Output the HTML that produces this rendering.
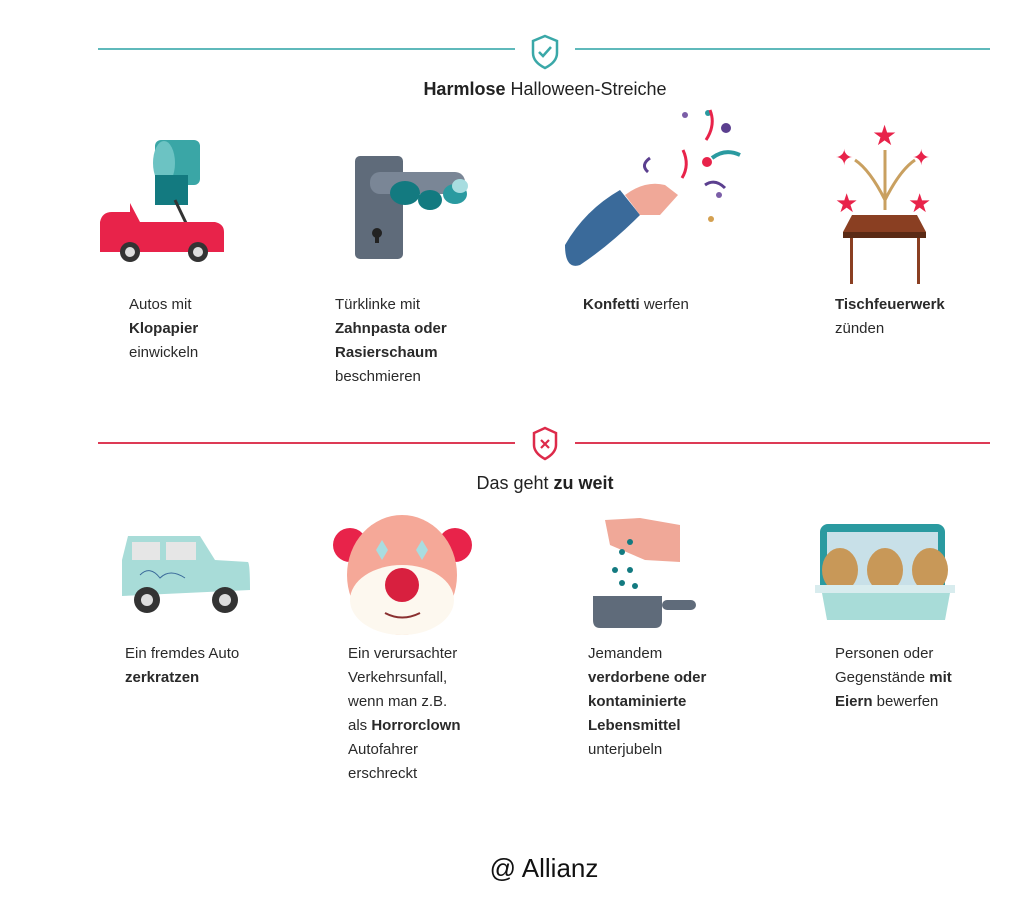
<!DOCTYPE html>
<html><head><meta charset="utf-8"><style>
body{margin:0;width:1024px;height:897px;background:#fff;position:relative;overflow:hidden;font-family:"Liberation Sans",sans-serif;color:#222}
.t{position:absolute;font-size:15px;line-height:24px;color:#2a2a2a}
b{font-weight:bold}
.h{position:absolute;font-size:18px;width:1024px;left:0;text-align:center;padding-left:66px;box-sizing:border-box;color:#222}
</style></head><body>
<svg width="1024" height="897" style="position:absolute;left:0;top:0">
<line x1="98" y1="49" x2="515" y2="49" stroke="#5fb9bb" stroke-width="2"/>
<line x1="575" y1="49" x2="990" y2="49" stroke="#5fb9bb" stroke-width="2"/>
<path d="M545 36 L557 41 V53 Q557 62 545 68 Q533 62 533 53 V41Z" fill="none" stroke="#3aa8a8" stroke-width="2.5"/>
<path d="M539 52 l4 4 l8 -9" fill="none" stroke="#3aa8a8" stroke-width="2.5"/>
<line x1="98" y1="443" x2="515" y2="443" stroke="#dd3a55" stroke-width="2"/>
<line x1="575" y1="443" x2="990" y2="443" stroke="#dd3a55" stroke-width="2"/>
<path d="M545 428 L556 433 V445 Q556 453 545 459 Q534 453 534 445 V433Z" fill="none" stroke="#dd2a4a" stroke-width="2.5"/>
<path d="M541 440 l8 8 M549 440 l-8 8" stroke="#dd2a4a" stroke-width="2.2"/>
<rect x="155" y="140" width="45" height="45" rx="6" fill="#3aa6a6"/>
<ellipse cx="164" cy="163" rx="11" ry="22" fill="#6cc3c3"/>
<rect x="155" y="175" width="33" height="30" fill="#137a80"/>
<line x1="175" y1="200" x2="186" y2="223" stroke="#333" stroke-width="3"/>
<path d="M100 222 Q102 212 112 212 L130 212 L130 203 L140 222 L215 222 Q224 224 224 232 L224 252 L100 252Z" fill="#e8234a"/>
<circle cx="130" cy="252" r="10" fill="#333"/><circle cx="130" cy="252" r="5" fill="#ddd"/>
<circle cx="198" cy="252" r="10" fill="#333"/><circle cx="198" cy="252" r="5" fill="#ddd"/>
<rect x="355" y="156" width="48" height="103" rx="5" fill="#5f6b7a"/>
<rect x="370" y="172" width="95" height="22" rx="10" fill="#7a8696"/>
<circle cx="377" cy="233" r="5" fill="#222"/><rect x="375" y="233" width="4" height="10" fill="#222"/>
<ellipse cx="405" cy="193" rx="15" ry="12" fill="#137a80"/><ellipse cx="430" cy="200" rx="12" ry="10" fill="#137a80"/><ellipse cx="455" cy="194" rx="12" ry="10" fill="#2a9aa0"/><ellipse cx="460" cy="186" rx="8" ry="7" fill="#a8dde0"/>
<path d="M565 245 Q585 210 620 190 L640 215 Q610 245 580 265 Q565 270 565 245Z" fill="#3a6a9a"/>
<path d="M625 195 Q645 180 665 185 L678 195 L660 215 L640 215Z" fill="#f0a898"/>
<circle cx="685" cy="115" r="3" fill="#7b5ea7"/><circle cx="708" cy="113" r="3" fill="#2a9aa0"/><circle cx="726" cy="128" r="5" fill="#5b3f8f"/>
<path d="M710 110 Q716 125 706 140" stroke="#e8234a" stroke-width="3" fill="none"/>
<path d="M683 150 Q690 165 682 178" stroke="#e8234a" stroke-width="3" fill="none"/>
<circle cx="707" cy="162" r="5" fill="#e8234a"/><path d="M712 158 Q725 148 740 155" stroke="#2a9aa0" stroke-width="4" fill="none"/>
<path d="M650 158 Q640 165 648 172" stroke="#5b3f8f" stroke-width="3" fill="none"/><path d="M705 185 Q715 178 725 188" stroke="#5b3f8f" stroke-width="3" fill="none"/>
<circle cx="711" cy="219" r="3" fill="#d4a050"/><circle cx="719" cy="195" r="3" fill="#7b5ea7"/>
<path d="M885 210 Q885 170 885 150 M885 200 Q870 170 855 160 M885 200 Q900 170 915 160" stroke="#c9a060" stroke-width="3" fill="none"/>
<text x="872" y="145" font-size="28" fill="#e8234a">★</text>
<text x="835" y="165" font-size="22" fill="#e8234a">✦</text><text x="912" y="165" font-size="22" fill="#e8234a">✦</text>
<text x="835" y="212" font-size="26" fill="#e8234a">★</text><text x="908" y="212" font-size="26" fill="#e8234a">★</text>
<path d="M852 215 L917 215 L926 232 L843 232Z" fill="#8a3f22"/><rect x="843" y="232" width="83" height="6" fill="#5a2a15"/>
<rect x="850" y="238" width="3" height="46" fill="#8a3f22"/><rect x="917" y="238" width="3" height="46" fill="#8a3f22"/>
<path d="M128 536 L200 536 L215 560 L248 562 Q250 564 250 590 L122 596 L122 560Z" fill="#a8dcd8"/>
<rect x="132" y="542" width="28" height="18" fill="#e6e6e6"/><rect x="166" y="542" width="30" height="18" fill="#e6e6e6"/>
<path d="M140 575 Q150 565 160 578 Q170 568 185 578" stroke="#3a6a9a" fill="none"/>
<circle cx="147" cy="600" r="13" fill="#333"/><circle cx="147" cy="600" r="6" fill="#ddd"/>
<circle cx="225" cy="600" r="13" fill="#333"/><circle cx="225" cy="600" r="6" fill="#ddd"/>
<circle cx="350" cy="545" r="17" fill="#e8234a"/><circle cx="455" cy="545" r="17" fill="#e8234a"/>
<ellipse cx="402" cy="575" rx="55" ry="60" fill="#f5a898"/>
<ellipse cx="402" cy="600" rx="52" ry="35" fill="#fdf8ef"/>
<circle cx="402" cy="585" r="17" fill="#d8203f"/>
<path d="M385 613 Q402 622 420 613" stroke="#8a3030" stroke-width="2" fill="none"/>
<path d="M382 540 l6 10 l-6 10 l-6 -10Z M422 540 l6 10 l-6 10 l-6 -10Z" fill="#a8dde0"/>
<path d="M605 520 L640 518 L680 525 L680 562 L645 560 L610 545Z" fill="#f0a898"/>
<circle cx="630" cy="542" r="3" fill="#137a80"/><circle cx="622" cy="552" r="3" fill="#137a80"/><circle cx="615" cy="570" r="3" fill="#137a80"/><circle cx="630" cy="570" r="3" fill="#137a80"/><circle cx="622" cy="583" r="3" fill="#137a80"/><circle cx="635" cy="586" r="3" fill="#137a80"/>
<path d="M593 596 L662 596 L662 620 Q662 628 655 628 L600 628 Q593 628 593 620Z" fill="#5f6b7a"/>
<rect x="662" y="600" width="34" height="10" rx="5" fill="#5f6b7a"/>
<rect x="820" y="524" width="125" height="70" rx="8" fill="#2a9aa0"/><rect x="827" y="532" width="111" height="60" fill="#c8e0e8"/>
<ellipse cx="840" cy="570" rx="18" ry="22" fill="#c89858"/><ellipse cx="885" cy="570" rx="18" ry="22" fill="#c89858"/><ellipse cx="930" cy="570" rx="18" ry="22" fill="#c89858"/>
<rect x="815" y="585" width="140" height="8" fill="#d8ecee"/>
<path d="M822 593 H950 L945 620 H827Z" fill="#a8dcd8"/>
</svg>
<div class="h" style="top:79px"><b>Harmlose</b> Halloween-Streiche</div>
<div class="h" style="top:473px">Das geht <b>zu weit</b></div>
<div class="t" style="left:129px;top:293px">Autos mit<br><b>Klopapier</b><br>einwickeln</div>
<div class="t" style="left:335px;top:293px">Türklinke mit<br><b>Zahnpasta oder</b><br><b>Rasierschaum</b><br>beschmieren</div>
<div class="t" style="left:583px;top:293px"><b>Konfetti</b> werfen</div>
<div class="t" style="left:835px;top:293px"><b>Tischfeuerwerk</b><br>zünden</div>
<div class="t" style="left:125px;top:642px">Ein fremdes Auto<br><b>zerkratzen</b></div>
<div class="t" style="left:348px;top:642px">Ein verursachter<br>Verkehrsunfall,<br>wenn man z.B.<br>als <b>Horrorclown</b><br>Autofahrer<br>erschreckt</div>
<div class="t" style="left:588px;top:642px">Jemandem<br><b>verdorbene oder</b><br><b>kontaminierte</b><br><b>Lebensmittel</b><br>unterjubeln</div>
<div class="t" style="left:835px;top:642px">Personen oder<br>Gegenstände <b>mit</b><br><b>Eiern</b> bewerfen</div>
<div style="position:absolute;left:0;width:1088px;text-align:center;top:853px;font-size:26px;color:#111">@ Allianz</div>
</body></html>
